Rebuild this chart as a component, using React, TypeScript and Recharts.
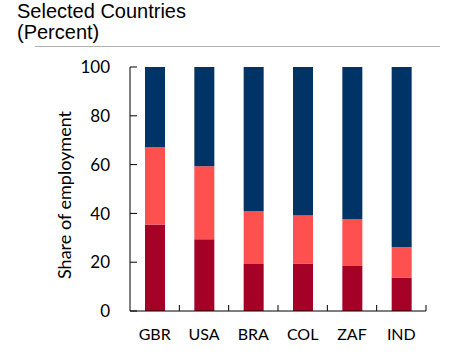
import React from 'react';
import { BarChart, Bar, XAxis, YAxis } from 'recharts';

const countries = ['GBR', 'USA', 'BRA', 'COL', 'ZAF', 'IND'];
const lowShare = [35.4, 29.4, 19.3, 19.3, 18.4, 13.7];
const midShare = [31.8, 29.9, 21.6, 19.8, 19.2, 12.4];
const highShare = [32.8, 40.7, 59.1, 60.9, 62.4, 73.9];
const yTicks = [0, 20, 40, 60, 80, 100];

const data = countries.map((c, i) => ({
  name: c,
  low: lowShare[i],
  mid: midShare[i],
  high: highShare[i],
}));

const FONT = 'Lato, "Open Sans", sans-serif';

const YTick = (props: any) => {
  const { x, y, payload } = props;
  return (
    <g>
      <line x1={x} x2={x + 7} y1={y} y2={y} stroke="#000" strokeWidth={1} />
      <text x={x - 20} y={y} dy="0.36em" textAnchor="end" fontFamily={FONT} fontSize={17} fill="#000">
        {payload.value}
      </text>
    </g>
  );
};

const XTick = (props: any) => {
  const { x, y, payload } = props;
  const off = payload.offset || 0;
  return (
    <g>
      <line x1={x + off} x2={x + off} y1={y} y2={y - 6} stroke="#000" strokeWidth={1} />
      <text x={x} y={y + 18} dy="0.71em" textAnchor="middle" fontFamily={FONT} fontSize={16} fill="#000">
        {payload.value}
      </text>
    </g>
  );
};

export default function App() {
  return (
    <div style={{ position: 'fixed', left: 0, top: 0, width: 450, height: 360, background: '#fff' }}>
      <div
        style={{
          position: 'absolute',
          left: 17,
          top: 1,
          fontFamily: '"Liberation Sans", Arial, sans-serif',
          fontSize: 20,
          lineHeight: '21px',
          color: '#000',
          whiteSpace: 'nowrap',
        }}
      >
        <div>Selected Countries</div>
        <div>(Percent)</div>
      </div>
      <div style={{ position: 'absolute', left: 35, top: 46, width: 405, height: 1, background: '#b0b0b0' }} />
      <div style={{ position: 'absolute', left: 0, top: 0 }}>
        <BarChart
          width={450}
          height={360}
          data={data}
          margin={{ top: 67, right: 24, left: 0, bottom: 0 }}
          barSize={20}
        >
          <XAxis
            dataKey="name"
            height={49}
            axisLine={{ stroke: '#000' }}
            tickLine={false}
            tickSize={0}
            tickMargin={0}
            interval={0}
            tick={<XTick />}
          />
          <YAxis
            domain={[0, 100]}
            ticks={yTicks}
            width={130}
            axisLine={{ stroke: '#000' }}
            tickLine={false}
            tickSize={0}
            tickMargin={0}
            interval={0}
            tick={<YTick />}
            label={{
              value: 'Share of employment',
              angle: -90,
              position: 'center',
              dy: 6,
              style: { fontFamily: FONT, fontSize: 18, fill: '#000', textAnchor: 'middle' },
            }}
          />
          <Bar dataKey="low" stackId="a" fill="#A50026" isAnimationActive={false} />
          <Bar dataKey="mid" stackId="a" fill="#FF5050" isAnimationActive={false} />
          <Bar dataKey="high" stackId="a" fill="#003366" isAnimationActive={false} />
        </BarChart>
      </div>
    </div>
  );
}
